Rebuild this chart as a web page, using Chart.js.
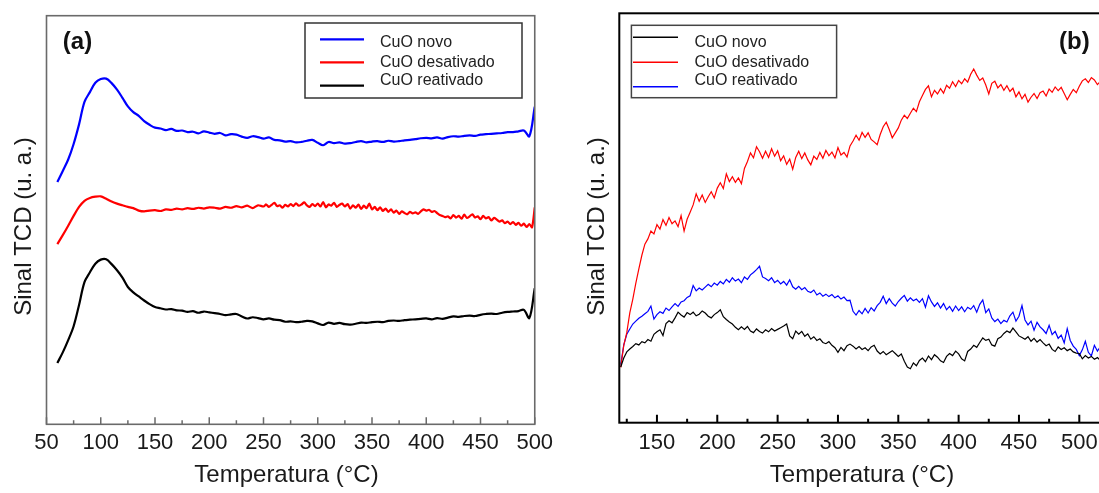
<!DOCTYPE html>
<html lang="pt">
<head>
<meta charset="utf-8">
<title>TPD – CuO</title>
<script src="https://cdn.jsdelivr.net/npm/chart.js@4"></script>
<style>
  html, body { margin: 0; padding: 0; background: #fff; }
  body { position: relative; width: 1099px; height: 493px; overflow: hidden; }
  canvas { position: absolute; top: 0; }
  #chartA { left: 0; }
  #chartB { left: 560px; }
</style>
</head>
<body>
<canvas id="chartA" width="560" height="493"></canvas>
<canvas id="chartB" width="580" height="493"></canvas>
<script>
// ---------- Panel (a): TCD signal, 60–500 °C ----------
// sampling grid of the smooth traces (every 5 °C)
const tempA = [];
for (let t = 60; t <= 500; t += 5) tempA.push(t);

// desativado trace is logged more finely above 250 °C
const tempRedA = [];
for (let t = 60; t <= 250; t += 5) tempRedA.push(t);
for (let t = 252.5; t <= 500; t += 2.5) tempRedA.push(t);

const novoA = [
  59.3, 62.0, 64.8, 68.6, 73.4, 78.9, 81.3, 83.6, 84.5, 84.6,
  83.5, 81.9, 79.9, 77.8, 76.4, 75.5, 74.2, 73.3, 72.6, 72.4,
  72.0, 72.3, 71.8, 71.9, 71.5, 71.6, 71.2, 71.7, 71.4, 71.1,
  71.3, 70.7, 71.0, 70.9, 70.4, 70.1, 70.5, 70.3, 69.9, 70.2,
  69.6, 69.5, 69.2, 69.3, 69.0, 69.1, 69.4, 69.6, 68.9, 68.3,
  69.1, 68.8, 69.0, 68.7, 68.8, 69.1, 69.3, 69.0, 69.2, 69.3,
  69.1, 69.4, 69.2, 69.3, 69.5, 69.6, 69.8, 70.0, 70.1, 70.0,
  70.2, 69.9, 70.3, 70.5, 70.4, 70.6, 70.7, 70.6, 70.9, 71.0,
  71.1, 71.2, 71.3, 71.5, 71.5, 71.7, 71.9, 70.5, 77.7
];

const desativadoA = [
  44.1, 46.3, 48.6, 51.0, 53.2, 54.7, 55.4, 55.7, 55.8, 55.2,
  54.5, 54.0, 53.6, 53.2, 52.9, 52.3, 52.1, 52.3, 52.4, 52.2,
  52.6, 52.5, 52.8, 52.6, 52.9, 52.7, 53.0, 52.8, 53.1, 53.0,
  52.8, 53.2, 53.0, 53.4, 53.1, 53.5, 52.9, 53.6, 53.3,
  53.8, 53.2, 53.7, 54.2, 53.4, 53.6, 53.0, 53.7, 53.3, 53.9,
  53.4, 54.1, 53.5, 53.8, 54.3, 53.6, 53.2, 53.9, 53.4, 54.0,
  53.3, 54.4, 53.1, 53.8, 53.5, 54.2, 53.2, 53.7, 54.0, 53.3,
  53.9, 52.8, 53.6, 53.0, 53.8, 52.7, 53.5, 52.9, 54.0, 52.6,
  53.2, 52.4, 53.1, 52.2, 52.8, 52.0, 52.6, 51.8, 52.3, 51.5,
  52.1, 51.7, 51.4, 52.0, 51.6, 51.9, 51.5, 52.1, 52.6, 52.3,
  52.5, 52.0, 52.2, 51.7, 51.2, 51.0, 50.7, 50.9, 50.4, 51.2,
  50.6, 51.0, 50.3, 51.3, 50.5, 50.9, 51.4, 50.6, 50.9, 50.2,
  51.0, 50.4, 50.7, 49.9, 50.5, 50.1, 49.6, 49.9, 49.2, 49.6,
  49.0, 49.5, 48.8, 49.3, 48.6, 49.1, 48.3, 49.0, 48.2, 53.1
];

const reativadoA = [
  15.0, 17.6, 20.6, 24.0, 29.2, 34.8, 37.2, 39.3, 40.3, 40.4,
  39.2, 37.7, 35.9, 33.6, 32.3, 31.3, 30.3, 29.4, 28.7, 28.4,
  28.1, 28.2, 27.9, 27.8, 27.5, 27.7, 27.3, 27.6, 27.4, 27.2,
  27.0, 26.7, 26.9, 27.0, 26.4, 25.9, 26.2, 26.0, 25.7, 25.9,
  25.6, 25.5, 25.1, 25.2, 25.0, 25.1, 25.3, 25.2, 24.7, 24.3,
  24.9, 24.6, 24.8, 24.5, 24.4, 24.6, 24.9, 24.8, 25.0, 25.1,
  25.0, 25.3, 25.4, 25.3, 25.5, 25.6, 25.7, 25.8, 25.9, 25.7,
  26.0, 25.8, 26.1, 26.4, 26.3, 26.5, 26.6, 26.5, 26.8, 27.0,
  27.1, 27.0, 27.3, 27.5, 27.6, 27.7, 28.0, 26.0, 33.3
];

const majorTicksA = [50, 100, 150, 200, 250, 300, 350, 400, 450, 500];
const minorTicksA = [75, 125, 175, 225, 275, 325, 375, 425, 475];

// ---------- Panel (b): TCD signal, 120–520 °C ----------
// sampling grid (every 2.5 °C)
const tempB = [];
for (let t = 120; t <= 520; t += 2.5) tempB.push(t);

const novoB = [
  13.6, 15.8, 17.3, 18.0, 18.6, 19.3, 19.0, 19.8, 19.5, 20.3,
  19.9, 21.6, 22.2, 22.7, 21.3, 24.2, 24.9, 24.4, 25.6, 27.0,
  26.3, 25.8, 26.9, 26.4, 27.0, 26.1, 26.5, 27.3, 26.8, 26.0,
  25.6, 26.4, 26.9, 27.6, 25.9, 25.2, 24.6, 24.1, 23.3, 22.7,
  23.4, 22.8, 23.5, 22.4, 22.0, 22.9, 22.3, 21.9, 22.7, 22.2,
  23.0, 22.4, 22.8, 23.2, 23.6, 24.1, 21.2, 20.5, 22.4, 21.6,
  22.3, 21.1, 21.7, 20.4, 21.0, 20.1, 20.5, 19.6, 19.3, 19.8,
  18.9, 18.3, 17.2, 18.4, 17.6, 18.8, 19.2, 18.7, 18.0, 18.6,
  17.9, 18.3, 17.6, 18.5, 18.9, 17.5, 16.8, 17.4, 16.6, 17.1,
  17.6, 16.9, 16.2, 16.8, 15.0, 13.6, 13.2, 14.6, 13.9, 15.2,
  15.8, 14.9, 16.3, 15.4, 16.6, 16.0, 15.1, 14.7, 16.2, 16.9,
  16.4, 17.5, 16.8, 15.6, 15.1, 17.4, 18.0, 18.9, 18.4, 19.6,
  20.7, 20.1, 20.4, 19.0, 18.7, 20.5, 20.9, 21.8, 22.4, 22.0,
  23.1, 22.2, 21.2, 20.8, 20.4, 21.0, 19.9, 20.6, 19.7, 20.3,
  19.5, 18.8, 19.2, 17.9, 17.4, 18.5, 17.9, 18.3, 17.6, 18.0,
  17.3, 17.0, 16.9, 15.6, 16.4, 15.8, 16.2, 15.5, 15.9, 15.2,
  15.6
];

const desativadoB = [
  13.5, 18.9, 22.0, 26.8, 30.2, 34.1, 37.6, 40.9, 43.6, 44.9,
  46.8, 46.1, 48.4, 47.3, 49.6, 48.2, 50.1, 48.6, 49.3, 47.9,
  50.6, 46.8, 49.7, 51.4, 53.2, 55.9, 54.1, 55.6, 53.8, 55.2,
  56.4, 54.9, 57.3, 58.6, 57.2, 60.8, 58.9, 60.1, 58.7, 59.8,
  58.4, 62.1, 63.8, 65.9, 64.7, 67.4, 66.2, 64.6, 66.3, 64.8,
  66.9, 65.1, 66.4, 64.0, 65.2, 63.1, 64.4, 61.9, 64.8, 66.3,
  64.5, 65.9, 64.2, 63.0, 65.1, 64.3, 66.0, 64.6, 66.5, 65.2,
  66.1, 64.7, 67.2, 65.4, 66.0, 64.9, 67.6, 68.8, 70.2, 69.0,
  70.9, 69.7, 70.8, 69.2, 68.6, 67.9, 70.4, 72.3, 73.4, 71.6,
  69.6, 70.8, 72.0, 73.9, 75.1, 74.3, 75.6, 76.8, 76.0, 78.4,
  79.9, 81.4, 82.3, 79.6, 81.2, 80.3, 81.6, 80.5, 82.4, 81.7,
  83.3, 82.1, 83.6, 82.8, 84.0, 83.2, 85.1, 86.4, 84.9, 83.6,
  84.2, 82.5, 80.3, 82.9, 83.4, 81.8, 82.6, 81.2, 82.3, 80.9,
  81.7, 79.6, 80.8, 79.1, 80.2, 78.3, 79.5, 80.4, 79.2, 80.6,
  81.0, 79.8, 81.5, 80.7, 82.0, 81.1, 81.9, 80.4, 78.9, 80.2,
  81.4, 80.6, 82.2, 83.5, 84.0, 83.1, 84.3, 83.7, 82.6, 83.4,
  82.8
];

const reativadoB = [
  14.2, 19.0, 21.6, 22.9, 24.1, 24.8, 25.5, 26.0, 26.6, 27.2,
  28.5, 25.3, 26.4, 27.1, 26.7, 28.0, 27.4, 28.3, 29.1, 28.4,
  29.5, 29.8, 30.6, 31.0, 33.5, 32.2, 32.9, 32.4, 33.1, 33.8,
  33.2, 34.1, 33.6, 34.5, 33.9, 35.0, 34.3, 35.4, 34.6, 35.1,
  34.2, 35.6, 35.0, 36.1, 36.7, 37.4, 38.2, 35.6, 35.2, 34.7,
  35.4, 34.2, 34.8, 33.9, 34.5, 33.6, 34.9, 33.2, 32.6, 33.3,
  32.5, 33.0, 32.1, 31.8, 32.4, 31.2, 31.7, 30.9, 31.4, 30.8,
  31.3, 30.5, 31.0, 30.2, 30.7, 29.8, 29.9, 27.2, 26.3, 27.4,
  26.6, 27.9, 26.8, 28.1, 27.3, 28.6, 29.4, 30.9, 29.1, 30.3,
  29.2, 28.5, 29.6, 30.4, 31.1, 29.7, 30.5, 29.8, 30.2, 29.4,
  30.3, 28.2, 31.0, 29.5, 28.4, 29.3, 28.0, 29.1, 27.6, 28.4,
  27.2, 28.5, 27.4, 28.3, 27.1, 28.2, 27.7, 28.6, 27.0, 28.9,
  30.0, 26.9, 27.8, 25.6, 24.7, 25.3, 24.2, 25.0, 24.6, 26.1,
  27.0, 24.8, 26.0, 28.6, 25.1, 23.9, 24.8, 22.6, 24.5, 23.4,
  22.7, 21.8, 23.8, 21.5, 22.3, 20.6, 21.4, 19.5, 23.0, 20.1,
  18.7, 17.9, 16.4, 17.8, 19.9, 17.2, 16.3, 18.9, 17.5, 18.6,
  17.2
];

const majorTicksB = [150, 200, 250, 300, 350, 400, 450, 500];
const minorTicksB = [125, 175, 225, 275, 325, 375, 425, 475, 525];

// ---------- helpers ----------
const FONT = '"Liberation Sans", Arial, Helvetica, sans-serif';
const toPoints = (xs, ys) => xs.map((x, i) => ({ x, y: ys[i] }));

function lineSet(label, xs, ys, color, width, tension) {
  return {
    label,
    data: toPoints(xs, ys),
    borderColor: color,
    backgroundColor: color,
    borderWidth: width,
    pointRadius: 0,
    tension: tension,
    fill: false
  };
}

// frame, inward ticks, axis titles, panel tag and boxed legend
const tcdDecor = {
  id: 'tcdDecor',
  afterDraw(chart, args, o) {
    const { ctx, chartArea: a } = chart;
    const xs = chart.scales.x;
    ctx.save();

    // ticks pointing into the plot
    ctx.strokeStyle = o.frameColor;
    ctx.lineWidth = o.tickWidth;
    ctx.beginPath();
    o.major.forEach(v => {
      const px = xs.getPixelForValue(v);
      ctx.moveTo(px, a.bottom); ctx.lineTo(px, a.bottom - o.majorLen);
    });
    o.minor.forEach(v => {
      const px = xs.getPixelForValue(v);
      ctx.moveTo(px, a.bottom); ctx.lineTo(px, a.bottom - o.minorLen);
    });
    ctx.stroke();

    // frame
    ctx.lineWidth = o.frameWidth;
    ctx.strokeRect(a.left, a.top, a.right - a.left, a.bottom - a.top);

    // axis titles
    ctx.fillStyle = '#1a1a1a';
    ctx.font = '24px ' + FONT;
    ctx.textAlign = 'center';
    ctx.textBaseline = 'middle';
    ctx.fillText(o.xTitle, o.xTitleAt[0], o.xTitleAt[1]);
    ctx.save();
    ctx.translate(o.yTitleAt[0], o.yTitleAt[1]);
    ctx.rotate(-Math.PI / 2);
    ctx.fillText(o.yTitle, 0, 0);
    ctx.restore();

    // panel tag
    ctx.font = 'bold 24px ' + FONT;
    ctx.fillStyle = '#111';
    ctx.fillText(o.tag, o.tagAt[0], o.tagAt[1]);

    // legend
    const L = o.legend;
    ctx.lineWidth = L.boxWidth;
    ctx.strokeStyle = L.boxColor;
    ctx.strokeRect(L.box[0], L.box[1], L.box[2], L.box[3]);
    ctx.font = '16px ' + FONT;
    ctx.textAlign = 'left';
    ctx.fillStyle = '#222';
    chart.data.datasets.forEach((ds, i) => {
      ctx.strokeStyle = ds.borderColor;
      ctx.lineWidth = L.sampleWidth;
      ctx.beginPath();
      ctx.moveTo(L.lineX[0], L.lineY[i]);
      ctx.lineTo(L.lineX[1], L.lineY[i]);
      ctx.stroke();
      ctx.fillText(ds.label, L.textX, L.textY[i]);
    });

    ctx.restore();
  }
};

function makeChart(id, cfg) {
  return new Chart(document.getElementById(id), {
    type: 'line',
    data: { datasets: cfg.datasets },
    plugins: [tcdDecor],
    options: {
      responsive: false,
      animation: false,
      devicePixelRatio: 1,
      layout: { padding: cfg.padding },
      plugins: {
        legend: { display: false },
        tooltip: { enabled: false },
        tcdDecor: cfg.decor
      },
      scales: {
        x: {
          type: 'linear',
          min: cfg.xMin,
          max: cfg.xMax,
          grid: { display: false, drawTicks: false },
          border: { display: false },
          ticks: {
            autoSkip: false,
            maxRotation: 0,
            includeBounds: false,
            padding: cfg.tickPad,
            color: '#1a1a1a',
            font: { family: FONT, size: 22 }
          },
          afterBuildTicks: s => { s.ticks = cfg.major.map(v => ({ value: v })); },
          afterFit: s => { s.height = cfg.xAxisHeight; }
        },
        y: {
          min: 0,
          max: 100,
          grid: { display: false, drawTicks: false },
          border: { display: false },
          ticks: { display: false },
          afterFit: s => { s.width = cfg.yAxisWidth; }
        }
      }
    }
  });
}

// panel (a)
makeChart('chartA', {
  datasets: [
    lineSet('CuO novo', tempA, novoA, '#0000ff', 2.2, 0.35),
    lineSet('CuO desativado', tempRedA, desativadoA, '#ff0000', 2.2, 0.25),
    lineSet('CuO reativado', tempA, reativadoA, '#000000', 2.2, 0.35)
  ],
  padding: { left: 0, right: 25.25, top: 15.7, bottom: 0 },
  xMin: 50, xMax: 500,
  major: majorTicksA,
  tickPad: 5.8,
  xAxisHeight: 68.7,
  yAxisWidth: 46.5,
  decor: {
    frameColor: '#6a6a6a', frameWidth: 1.6, tickWidth: 1.5,
    major: majorTicksA, minor: minorTicksA, majorLen: 7, minorLen: 4,
    xTitle: 'Temperatura (°C)', xTitleAt: [286.5, 475.5],
    yTitle: 'Sinal TCD (u. a.)', yTitleAt: [24.5, 226.5],
    tag: '(a)', tagAt: [77.5, 42.5],
    legend: {
      box: [305, 23, 217, 75], boxColor: '#333', boxWidth: 1.5,
      lineX: [320, 364], lineY: [39.3, 62.3, 85.7], sampleWidth: 2.2,
      textX: 380, textY: [42.7, 62.3, 81]
    }
  }
});

// panel (b)
makeChart('chartB', {
  datasets: [
    lineSet('CuO novo', tempB, novoB, '#000000', 1.2, 0),
    lineSet('CuO desativado', tempB, desativadoB, '#ff0000', 1.2, 0),
    lineSet('CuO reativado', tempB, reativadoB, '#0000ff', 1.2, 0)
  ],
  padding: { left: 0, right: 24.5, top: 13.3, bottom: 0 },
  xMin: 118.8, xMax: 530,
  major: majorTicksB,
  tickPad: 7.1,
  xAxisHeight: 70.3,
  yAxisWidth: 59.3,
  decor: {
    frameColor: '#000', frameWidth: 2, tickWidth: 2,
    major: majorTicksB, minor: minorTicksB, majorLen: 8, minorLen: 4,
    xTitle: 'Temperatura (°C)', xTitleAt: [302, 475.5],
    yTitle: 'Sinal TCD (u. a.)', yTitleAt: [37, 226.5],
    tag: '(b)', tagAt: [514.3, 42],
    legend: {
      box: [71.4, 25.3, 205.2, 72.4], boxColor: '#444', boxWidth: 1.5,
      lineX: [73, 118], lineY: [37.3, 62.3, 86.7], sampleWidth: 1.5,
      textX: 134.5, textY: [42.5, 62.3, 81]
    }
  }
});
</script>
</body>
</html>
